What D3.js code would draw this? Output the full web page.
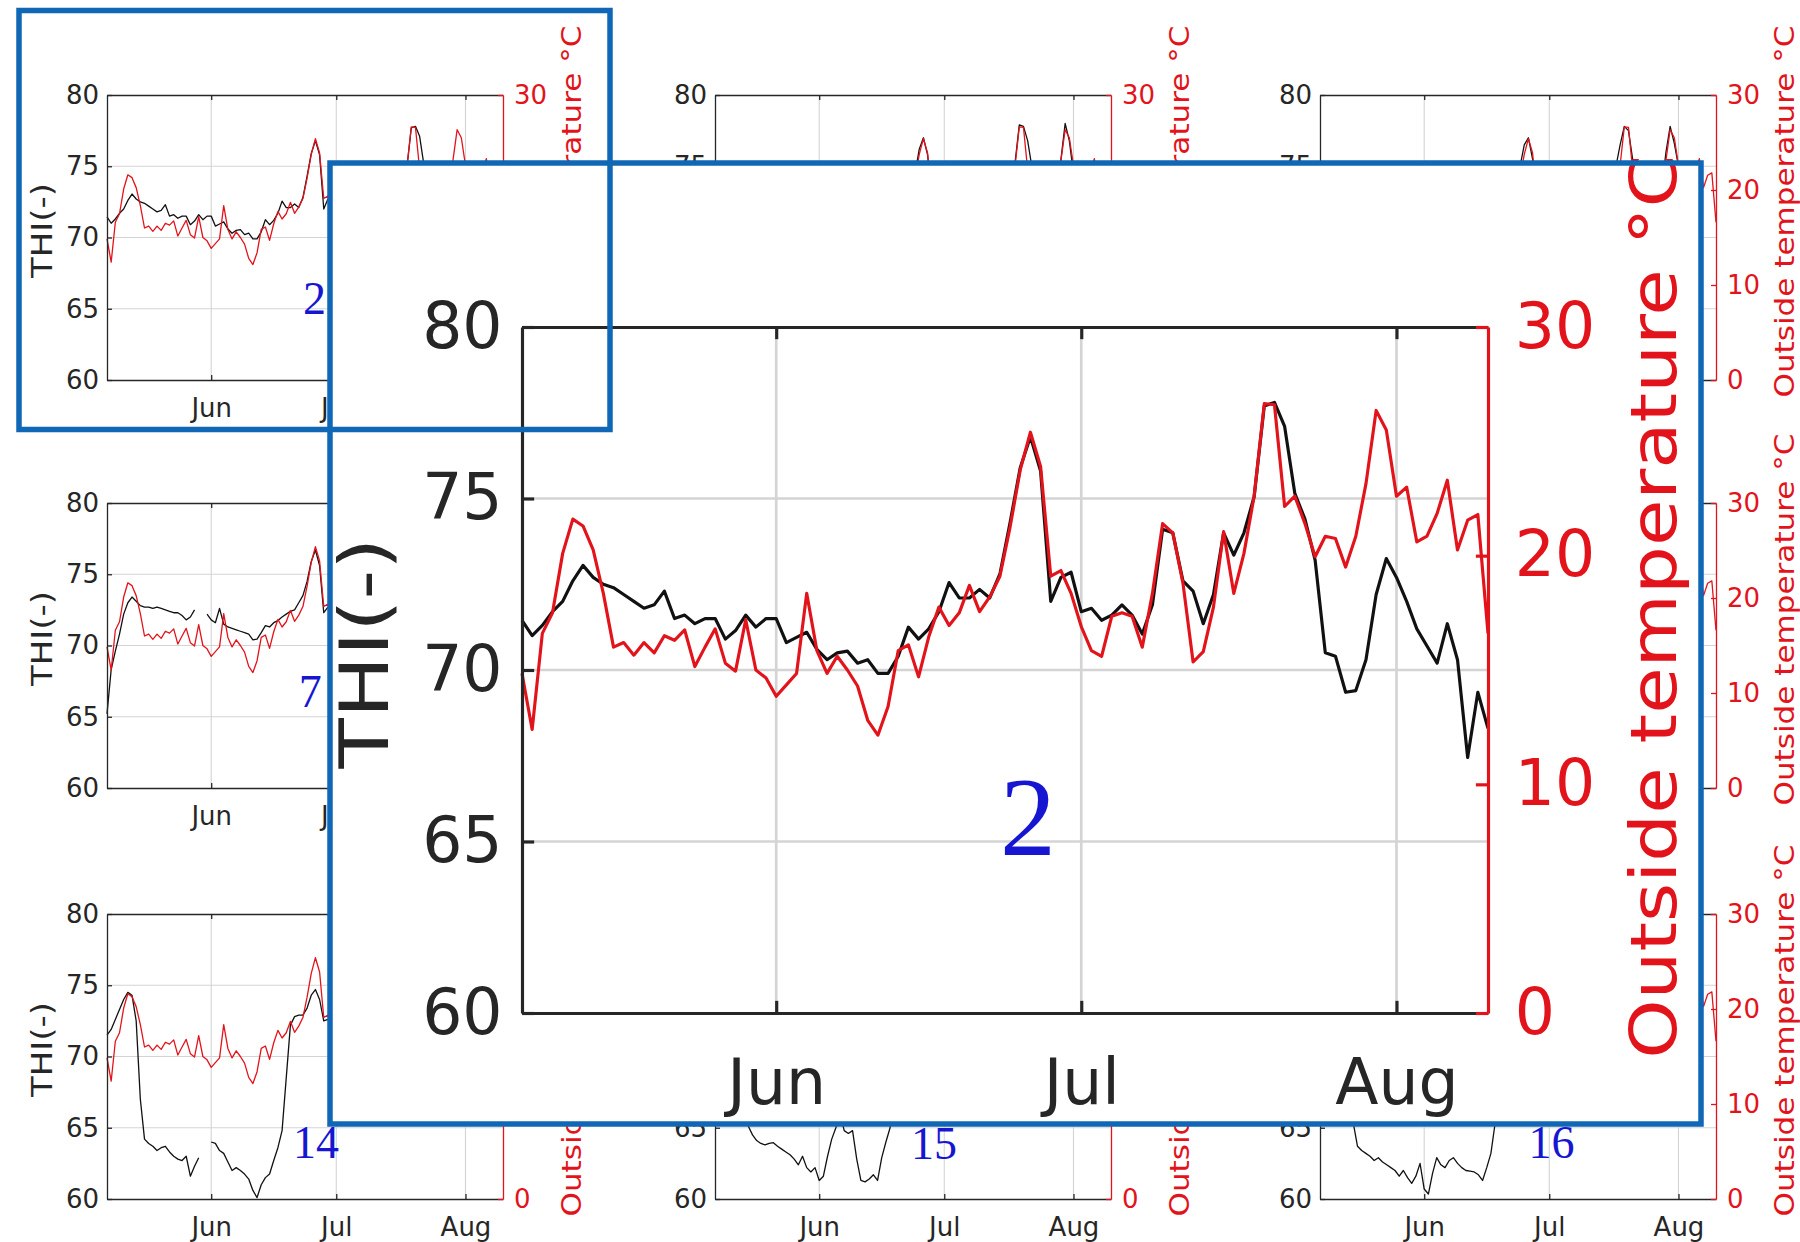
<!DOCTYPE html>
<html>
<head>
<meta charset="utf-8">
<script src="https://cdn.jsdelivr.net/npm/d3@7"></script>
<style>
  body { margin: 0; background: #fff; }
</style>
</head>
<body>
<div id="app"></div>
<script>
const _ = null

//#region 1. Data (daily values, day 0 = 7 May)
const startDay = new Date(Date.UTC(2019, 4, 7))
const endDay = new Date(Date.UTC(2019, 7, 10))
const monthStarts = [new Date(Date.UTC(2019, 5, 1)), new Date(Date.UTC(2019, 6, 1)), new Date(Date.UTC(2019, 7, 1))]
const thiTicks = [60, 65, 70, 75, 80]
const tempTicks = [0, 10, 20, 30]

// outside temperature, same in every panel
const tempOutside = [
  14.85, 12.4, 16.6, 17.5, 20.1, 21.6, 21.3, 20.25, 18.35, 16.0,
  16.2, 15.65, 16.2, 15.75, 16.5, 16.3, 16.75, 15.15, 16.0, 16.8,
  15.3, 14.95, 17.2, 15.0, 14.65, 13.85, 14.35, 14.85, 18.35, 15.85,
  14.85, 15.6, 15.0, 14.3, 12.8, 12.15, 13.4, 15.85, 16.1, 14.7,
  16.45, 17.75, 16.95, 17.5, 18.7, 17.55, 18.2, 19.1, 21.25, 23.75,
  25.4, 23.9, 19.1, 19.35, 18.35, 16.9, 15.85, 15.6, 17.35, 17.5,
  17.35, 16.0, 18.35, 21.4, 21.0, 18.8, 15.35, 15.8, 17.75, 21.05,
  18.35, 20.1, 22.6, 26.65, 26.6, 22.15, 22.6, 21.4, 19.95, 20.85,
  20.75, 19.5, 20.85, 23.15, 26.35, 25.5, 22.6, 23.0, 20.6, 20.85,
  21.85, 23.3, 20.25, 21.55, 21.8, 16.6
]

const thi02 = [
  71.45, 71.0, 71.3, 71.7, 72.0, 72.6, 73.05, 72.7, 72.5, 72.4,
  72.2, 72.0, 71.8, 71.9, 72.3, 71.5, 71.6, 71.35, 71.5, 71.5,
  70.9, 71.15, 71.6, 71.25, 71.5, 71.5, 70.8, 70.95, 71.1, 70.6,
  70.3, 70.5, 70.55, 70.2, 70.3, 69.9, 69.9, 70.4, 71.25, 70.9,
  71.2, 71.7, 72.55, 72.1, 72.1, 72.35, 72.1, 72.8, 74.3, 75.9,
  76.8, 75.8, 72.0, 72.7, 72.85, 71.7, 71.8, 71.45, 71.6, 71.9,
  71.6, 71.05, 71.9, 74.1, 74.0, 72.6, 72.3, 71.35, 72.2, 74.0,
  73.35, 74.0, 75.05, 77.7, 77.8, 77.1, 75.15, 74.4, 73.2, 70.5,
  70.4, 69.35, 69.4, 70.3, 72.2, 73.25, 72.7, 72.0, 71.2, 70.7,
  70.2, 71.35, 70.3, 67.45, 69.35, 68.3
]

// only the parts that show above the inset
const thi03 = [
  _, _, _, _, _, _, _, _, _, _,
  _, _, _, _, _, _, _, _, _, _,
  _, _, _, _, _, _, _, _, _, _,
  _, _, _, _, _, _, _, _, _, _,
  _, _, _, _, _, _, 72.5, 73.0, 74.5, 76.2,
  77.0, 75.8, 73.0, _, _, _, _, _, _, _,
  _, _, _, _, _, _, _, _, _, _,
  73.5, 74.2, 75.3, 77.9, 77.8, 76.8, 75.0, 74.0, _, _,
  _, 70.5, 73.0, 75.5, 78.0, 76.8, 74.5, 73.5
]

const thi04 = [
  _, _, _, _, _, _, _, _, _, _,
  _, _, _, _, _, _, _, _, _, _,
  _, _, _, _, _, _, _, _, _, _,
  _, _, _, _, _, _, _, _, _, _,
  _, _, _, _, _, _, 72.5, 73.2, 75.0, 76.5,
  77.0, 75.5, 73.0, _, _, _, _, _, _, _,
  _, _, _, _, _, _, _, _, _, _,
  73.5, 75.0, 76.5, 77.8, 77.5, 75.5, 74.5, _, _, _,
  _, 70.5, 73.5, 76.0, 77.8, 76.6, 75.0, 73.5
]

const thi07 = [
  65.2, 68.3, 69.6, 70.8, 72.2, 73.0, 73.4, 73.1, 72.8, 72.7,
  72.7, 72.6, 72.7, 72.6, 72.5, 72.4, 72.3, 72.3, 72.1, 71.8,
  72.0, 72.5, _, _, 72.2, 71.8, 71.6, 72.6, 71.5, 71.3,
  71.2, 71.1, 71.0, 70.9, 70.8, 70.4, 70.45, 70.9, 71.4, 71.3,
  71.6, 71.75, 72.0, 72.2, 72.4, 72.5, 73.0, 73.5, 74.5, 75.9,
  76.7, 75.6, 72.3, 72.7
]

const thi14 = [
  71.5, 71.9, 72.6, 73.3, 74.0, 74.5, 74.3, 72.5, 67.0, 64.2,
  63.9, 63.7, 63.4, 63.6, 63.7, 63.3, 63.0, 62.8, 62.7, 63.0,
  61.6, 62.3, 62.9, _, _, 64.0, 63.9, 63.4, 63.2, 62.6,
  62.0, 62.2, 62.0, 61.75, 61.4, 60.6, 60.1, 61.0, 61.5, 61.75,
  62.7, 63.6, 64.8, 68.5, 72.2, 72.8, 72.9, 72.9, 73.4, 74.3,
  74.7, 74.0, 72.5, 72.6
]

const thi15 = [
  _, _, _, _, _, _, _, 68.0, 65.1, 64.5,
  64.1, 63.9, 63.8, 63.9, 63.95, 63.7, 63.5, 63.3, 63.1, 62.8,
  62.4, 63.0, 62.2, 61.9, 62.2, 61.3, 61.6, 63.0, 64.2, 65.0,
  66.0, 64.8, 64.6, 64.8, 62.8, 61.3, 61.2, 61.4, 61.7, 61.3,
  62.9, 64.0, 65.0, 68.0
]

const thi16 = [
  _, _, _, _, _, _, _, 68.0, 65.3, 63.7,
  63.4, 63.2, 63.0, 62.7, 62.9, 62.6, 62.4, 62.2, 62.0, 61.6,
  62.0, 61.5, 61.1, 61.6, 62.5, 60.7, 60.35, 61.8, 62.9, 62.4,
  62.2, 62.7, 62.9, 62.5, 62.2, 62.0, 61.95, 61.9, 61.7, 61.3,
  62.2, 63.2, 65.3, 68.0
]
//#endregion

//#region 2. Layout
const colX = [107, 715, 1320]
const rowY = [95, 503, 914]
const panelW = 396
const panelH = 285

const panels = [
  { col: 0, row: 0, thi: thi02, tag: "2", tagAt: [47, 64.6] },
  { col: 1, row: 0, thi: thi03 },
  { col: 2, row: 0, thi: thi04 },
  { col: 0, row: 1, thi: thi07, tag: "7", tagAt: [46, 65.7] },
  { col: 1, row: 1 },
  { col: 2, row: 1 },
  { col: 0, row: 2, thi: thi14, tag: "14", tagAt: [44.6, 62.9] },
  { col: 1, row: 2, thi: thi15, tag: "15", tagAt: [47, 62.8] },
  { col: 2, row: 2, thi: thi16, tag: "16", tagAt: [50, 62.9] },
]

const dark = "#262626"
const red = "#e3131b"
const gridColor = "#d4d4d4"
const tagBlue = "#1616d2"
const boxBlue = "#0f67b5"
const sans = '"DejaVu Sans", Verdana, sans-serif'
//#endregion

//#region 3. Draw one panel
function drawPanel(parent, p) {
  const k = p.k
  const g = parent.append("g")
      .attr("transform", `translate(${p.x0},${p.y0})`)

  const xScale = d3.scaleUtc().domain([startDay, endDay]).range([0, p.w])
  const yScale = d3.scaleLinear().domain([60, 80]).range([p.h, 0])
  const tScale = d3.scaleLinear().domain([0, 30]).range([p.h, 0])
  const dayX = i => xScale(new Date(+startDay + i * 864e5))

  // grid
  const grid = g.append("g")
      .attr("stroke", gridColor)
      .attr("stroke-width", 1.1 * k)
  grid.selectAll(null).data(thiTicks.slice(1, -1)).join("line")
      .attr("x1", 0).attr("x2", p.w)
      .attr("y1", d => yScale(d)).attr("y2", d => yScale(d))
  grid.selectAll(null).data(monthStarts).join("line")
      .attr("y1", 0).attr("y2", p.h)
      .attr("x1", d => xScale(d)).attr("x2", d => xScale(d))

  // series
  const lineOf = scale => d3.line()
    .defined(d => d != null)
    .x((d, i) => dayX(i))
    .y(d => scale(d))

  if (p.thi) {
    g.append("path")
        .datum(p.thi)
        .attr("fill", "none")
        .attr("stroke", "#111")
        .attr("stroke-width", 1.3 * k)
        .attr("stroke-linejoin", "round")
        .attr("d", lineOf(yScale))
  }
  g.append("path")
      .datum(tempOutside)
      .attr("fill", "none")
      .attr("stroke", red)
      .attr("stroke-width", 1.3 * k)
      .attr("stroke-linejoin", "round")
      .attr("d", lineOf(tScale))

  // axes
  const tickLen = 5 * k
  const fontSize = 26 * k
  const styleAxis = (a, color) => {
    a.attr("color", color)
      .attr("font-size", fontSize)
      .attr("font-family", sans)
    a.select(".domain").attr("stroke-width", 1.3 * k)
    a.selectAll(".tick line").attr("stroke-width", 1.3 * k)
  }

  const leftAxis = g.append("g")
    .call(d3.axisLeft(yScale).tickValues(thiTicks)
      .tickSizeInner(-tickLen).tickSizeOuter(0).tickPadding(8 * k))
  styleAxis(leftAxis, dark)

  const topAxis = g.append("g")
    .call(d3.axisTop(xScale).tickValues(monthStarts).tickFormat("")
      .tickSizeInner(-tickLen).tickSizeOuter(0))
  styleAxis(topAxis, dark)

  const bottomAxis = g.append("g")
      .attr("transform", `translate(0,${p.h})`)
    .call(d3.axisBottom(xScale).tickValues(monthStarts).tickFormat(d3.utcFormat("%b"))
      .tickSizeInner(-tickLen).tickSizeOuter(0).tickPadding(19 * k))
  styleAxis(bottomAxis, dark)

  const rightAxis = g.append("g")
      .attr("transform", `translate(${p.w},0)`)
    .call(d3.axisRight(tScale).tickValues(tempTicks)
      .tickSizeInner(-tickLen).tickSizeOuter(0).tickPadding(11 * k))
  styleAxis(rightAxis, red)

  // axis titles
  g.append("text")
      .attr("transform", `translate(${-65 * k},${p.h / 2 - 7 * k}) rotate(-90)`)
      .attr("text-anchor", "middle")
      .attr("dominant-baseline", "central")
      .attr("font-family", sans)
      .attr("font-size", 28 * k)
      .attr("textLength", 95 * k)
      .attr("lengthAdjust", "spacingAndGlyphs")
      .attr("fill", dark)
      .text("THI(-)")

  g.append("text")
      .attr("transform", `translate(${p.w + 68 * k},${p.h / 2 - 26 * k}) rotate(-90)`)
      .attr("text-anchor", "middle")
      .attr("dominant-baseline", "central")
      .attr("font-family", sans)
      .attr("font-size", 26.5 * k)
      .attr("textLength", 372 * k)
      .attr("lengthAdjust", "spacingAndGlyphs")
      .attr("fill", red)
      .text("Outside temperature °C")

  // panel number
  if (p.tag) {
    g.append("text")
        .attr("x", dayX(p.tagAt[0]))
        .attr("y", yScale(p.tagAt[1]))
        .attr("font-family", '"Liberation Serif", "Times New Roman", serif')
        .attr("font-size", 46 * k)
        .attr("fill", tagBlue)
        .text(p.tag)
  }
}
//#endregion

//#region 4. Draw canvas
const svg = d3.select("#app")
  .append("svg")
    .attr("width", 1800)
    .attr("height", 1242)

svg.append("rect")
    .attr("width", 1800)
    .attr("height", 1242)
    .attr("fill", "#fff")

const smallLayer = svg.append("g")
panels.forEach(p => drawPanel(smallLayer, {
  ...p,
  x0: colX[p.col],
  y0: rowY[p.row],
  w: panelW,
  h: panelH,
  k: 1,
}))

// enlarged copy of panel 2
const inset = { x: 330, y: 163, w: 1371, h: 961 }

// texts of the small grid that end up fully under the inset are dropped
smallLayer.selectAll("text").each(function () {
  const b = this.getBoundingClientRect()
  if (b.left >= inset.x && b.right <= inset.x + inset.w
    && b.top >= inset.y && b.bottom <= inset.y + inset.h) {
    d3.select(this).remove()
  }
})

svg.append("rect")
    .attr("x", inset.x).attr("y", inset.y)
    .attr("width", inset.w).attr("height", inset.h)
    .attr("fill", "#fff")

drawPanel(svg, {
  x0: 522, y0: 327, w: 966, h: 686, k: 2.43,
  thi: thi02, tag: "2", tagAt: [47, 64.6],
})

svg.append("rect")
    .attr("x", inset.x).attr("y", inset.y)
    .attr("width", inset.w).attr("height", inset.h)
    .attr("fill", "none")
    .attr("stroke", boxBlue)
    .attr("stroke-width", 5.5)

svg.append("rect")
    .attr("x", 19).attr("y", 10.5)
    .attr("width", 591).attr("height", 419)
    .attr("fill", "none")
    .attr("stroke", boxBlue)
    .attr("stroke-width", 5.5)
//#endregion
</script>
</body>
</html>
